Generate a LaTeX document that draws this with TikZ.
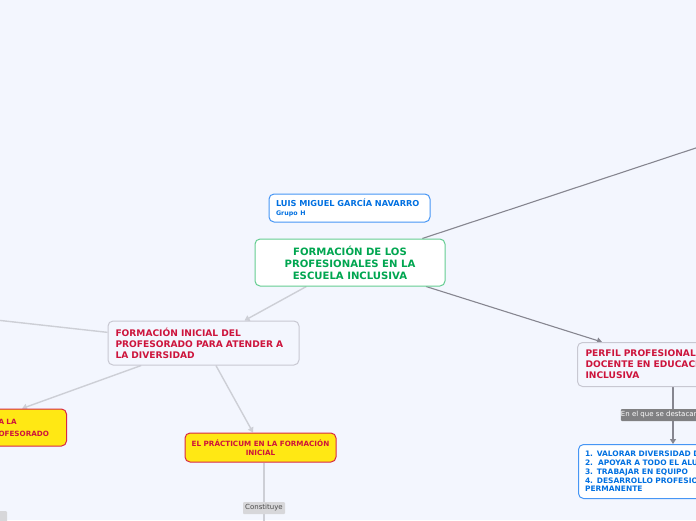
\documentclass[tikz,border=0pt]{standalone}
\usepackage{fontspec}
\setmainfont{DejaVu Sans}
\usepackage{tikz}
\usetikzlibrary{arrows.meta,positioning,calc}
\definecolor{paper}{RGB}{243,246,254}
\definecolor{rootgreen}{RGB}{0,166,80}
\definecolor{rootline}{RGB}{100,205,145}
\definecolor{namblue}{RGB}{0,112,225}
\definecolor{namline}{RGB}{70,150,245}
\definecolor{crimson}{RGB}{205,20,60}
\definecolor{topicline}{RGB}{200,200,210}
\definecolor{sunyellow}{RGB}{255,232,20}
\definecolor{sunline}{RGB}{215,40,70}
\definecolor{darklink}{RGB}{134,134,144}
\definecolor{lightlink}{RGB}{205,207,214}
\definecolor{tagdark}{RGB}{128,128,130}
\definecolor{taglight}{RGB}{215,215,218}
\pgfdeclarelayer{bg}
\pgfdeclarelayer{edges}
\pgfsetlayers{bg,edges,main}

\begin{document}
\begin{tikzpicture}[x=1pt,y=-1pt,
  rootbox/.style={draw=rootline,line width=1pt,rounded corners=5pt,fill=white,font=\bfseries\fontsize{10.1}{12}\selectfont,text=rootgreen,align=center},
  topicbox/.style={draw=topicline,line width=1pt,rounded corners=5pt,fill=paper,font=\bfseries\fontsize{9.1}{11}\selectfont,text=crimson,align=left},
  sunbox/.style={draw=sunline,line width=1pt,rounded corners=5pt,fill=sunyellow,font=\bfseries\fontsize{7.2}{9}\selectfont,text=crimson},
  tag/.style={rounded corners=1pt,inner sep=0pt,minimum height=12pt,font=\fontsize{7}{7}\selectfont},
  darkedge/.style={line width=1.1pt,draw=darklink},
  lightedge/.style={line width=1.4pt,draw=lightlink},
  tip/.style={-{Triangle[length=5pt,width=6pt]}}]
\useasboundingbox (0,0) rectangle (696,520);
\begin{pgfonlayer}{bg}
\fill[paper] (0,0) rectangle (696,520);
\end{pgfonlayer}
\clip (0,0) rectangle (696,520);
% central topic and author
\node[rootbox,minimum width=190pt,minimum height=47pt] (root) at (350,262.5) {FORMACIÓN DE LOS\\PROFESIONALES EN LA\\ESCUELA INCLUSIVA};
\node[draw=namline,line width=1pt,rounded corners=5pt,fill=white,minimum width=161pt,minimum height=28pt,text width=147pt,align=left,text=namblue,font=\bfseries\fontsize{8.2}{9}\selectfont] (autor) at (349.5,208) {LUIS MIGUEL GARCÍA NAVARRO\\{\fontsize{6.3}{7}\selectfont Grupo H}};
% main branches
\node[topicbox,minimum width=191pt,minimum height=44pt,text width=176pt] (inicial) at (203.5,343) {FORMACIÓN INICIAL DEL\\PROFESORADO PARA ATENDER A\\LA DIVERSIDAD};
\node[topicbox,minimum width=200pt,minimum height=44pt,text width=184pt,anchor=north west] (perfil) at (577,342) {PERFIL PROFESIONAL\\DOCENTE EN EDUCACIÓN\\INCLUSIVA};
% sub topics
\node[sunbox,align=center,minimum width=151pt,minimum height=29pt] (practicum) at (260.5,447.5) {EL PRÁCTICUM EN LA FORMACIÓN\\INICIAL};
\node[sunbox,align=left,anchor=west,minimum width=73pt,minimum height=37pt,text width=63pt,font=\bfseries\fontsize{7.2}{12}\selectfont] (izq) at (-7,427.5) {A LA\\OFESORADO};
\node[draw=namline,line width=1pt,rounded corners=5pt,fill=white,anchor=north west,minimum width=200pt,minimum height=54pt,text width=187pt,align=left,text=namblue,font=\bfseries\fontsize{7.5}{8.8}\selectfont] (lista) at (578,444) {1. VALORAR DIVERSIDAD DEL ALUMNADO\\2.\ \ APOYAR A TODO EL ALUMNADO\\3. TRABAJAR EN EQUIPO\\4. DESARROLLO PROFESIONAL\\PERMANENTE};
% link labels
\node[tag,fill=taglight,text=black!70,minimum width=42pt] (constituye) at (264,508) {Constituye};
\node[tag,fill=tagdark,text=white,minimum width=77pt] (destacan) at (659.5,415) {En el que se destacan};
\node[tag,fill=taglight,minimum width=30pt] (abajo) at (-8,517) {};
% free ends
\coordinate (arriba) at (720,140);
\coordinate (oeste) at (-40,316);
\coordinate (sur) at (264,540);
\coordinate (pbase) at ([xshift=96pt]perfil.south west);
\begin{pgfonlayer}{edges}
\draw[darkedge] (root) -- (arriba);
\draw[darkedge,tip] (root) -- ([xshift=25pt]perfil.north west);
\draw[darkedge] (pbase) -- (pbase |- destacan.north);
\draw[darkedge,tip] (pbase |- destacan.south) -- (pbase |- lista.north);
\draw[lightedge,tip] (root) -- ([xshift=137pt]inicial.north west);
\draw[lightedge] (oeste) -- (inicial);
\draw[lightedge,tip] (inicial) -- ([xshift=29pt]izq.north west);
\draw[lightedge,tip] (inicial) -- ([xshift=-7.5pt]practicum.north);
\draw[lightedge] (practicum.south -| constituye) -- (sur);
\end{pgfonlayer}
\end{tikzpicture}
\end{document}
